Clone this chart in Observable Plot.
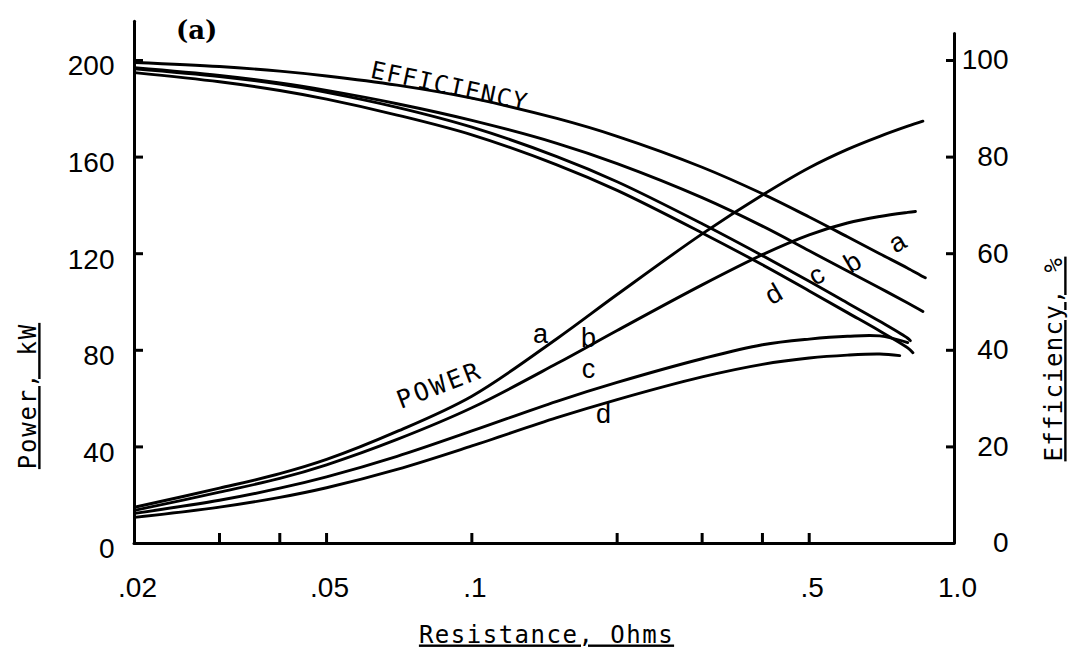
<!DOCTYPE html>
<html><head><meta charset="utf-8">
<script src="https://cdn.jsdelivr.net/npm/d3@7"></script>
<script src="https://cdn.jsdelivr.net/npm/@observablehq/plot@0.6"></script>
<style>
html,body{margin:0;padding:0;background:#fff;}
#chart{width:1075px;height:663px;}
</style></head><body><div id="chart"></div>
<script>
// Resistance grid (ohms) shared by the curves
const ohms = [0.02, 0.03, 0.04, 0.05, 0.07, 0.1, 0.15, 0.2, 0.3, 0.4, 0.5, 0.6, 0.7];

// Power, kW (curves a-d)
const powerA_R = [...ohms, 0.8, 0.86];
const powerA   = [15.0, 22.9, 28.9, 34.8, 46.4, 61.0, 84.8, 103.1, 128.2, 144.3, 155.6, 163.2, 168.6, 172.8, 174.9];
const powerB_R = [...ohms, 0.8, 0.83];
const powerB   = [13.75, 21.25, 26.95, 32.6, 43.1, 56.2, 74.5, 88.2, 107.1, 119.6, 127.8, 132.7, 135.4, 137.1, 137.5];
const powerC_R = [...ohms, 0.8];
const powerC   = [12.5, 17.9, 22.9, 27.6, 36.1, 46.6, 58.9, 66.7, 76.5, 82.3, 84.65, 85.8, 85.95, 83.2];
const powerD_R = [...ohms, 0.77];
const powerD   = [10.8, 15.05, 19.1, 23.1, 30.7, 40.4, 52.1, 59.6, 69.0, 74.2, 76.8, 78.0, 78.45, 77.8];

// Efficiency, % (curves a-d)
const effA_R = [...ohms, 0.8, 0.87];
const effA   = [99.6, 98.75, 97.8, 96.8, 94.9, 92.2, 88.0, 84.3, 77.9, 72.4, 67.6, 63.5, 60.0, 57.0, 55.0];
const effB_R = [...ohms, 0.8, 0.86];
const effB   = [98.5, 96.9, 95.35, 93.8, 91.05, 87.6, 82.85, 78.65, 71.6, 65.7, 60.6, 56.4, 52.9, 49.8, 48.05];
const effC_R = [...ohms, 0.8, 0.81];
const effC   = [98.3, 96.7, 95.1, 93.4, 90.3, 86.2, 80.1, 74.9, 66.2, 59.6, 54.3, 49.8, 46.0, 42.5, 42.0];
const effD_R = [...ohms, 0.8, 0.82];
const effD   = [97.5, 95.6, 93.8, 92.0, 88.7, 84.6, 78.4, 73.1, 64.3, 57.7, 52.3, 47.8, 44.0, 40.5, 39.5];

// Axes / ticks
const xTickMarks   = [0.03, 0.04, 0.05, 0.1, 0.2, 0.3, 0.4, 0.5];
const xLabelValues = [0.02, 0.05, 0.1, 0.5, 1.0];
const xTickLabels  = [".02", ".05", ".1", ".5", "1.0"];
const powerTicks   = [0, 40, 80, 120, 160, 200];
const effTicks     = [0, 20, 40, 60, 80, 100];
const powerAxisTop = 216;   // kW, top of left axis line
const effAxisTop   = 105.5; // %, top of right axis line

// Text annotations
const curveIds = ["a", "b", "c", "d"];
const powerLabelR = [0.1388, 0.1745, 0.1745, 0.1874];
const powerLabelP = [86.5, 84.9, 72.0, 53.4];
const effLabelR = [0.762, 0.615, 0.518, 0.422];
const effLabelE = [62.3, 58.2, 55.5, 51.6];
const titles = {x: "Resistance, Ohms", yLeft: "Power, kW", yRight: "Efficiency, %", panel: "(a)"};

// build tables
const powerSeries = [[powerA_R, powerA], [powerB_R, powerB], [powerC_R, powerC], [powerD_R, powerD]];
const effSeries = [[effA_R, effA], [effB_R, effB], [effC_R, effC], [effD_R, effD]];
const powerRows = powerSeries.flatMap(([rs, vs], k) => rs.map((r, i) => ({id: curveIds[k], r, v: vs[i]})));
const effRows = effSeries.flatMap(([rs, vs], k) => rs.map((r, i) => ({id: curveIds[k], r, v: vs[i]})));
const powerLabels = curveIds.map((t, i) => ({t, r: powerLabelR[i], v: powerLabelP[i]}));
const effLabels = curveIds.map((t, i) => ({t, r: effLabelR[i], v: effLabelE[i]}));
const xLabelMap = new Map(xLabelValues.map((v, i) => [v, xTickLabels[i]]));

const mono = "DejaVu Sans Mono";
const sans = "Liberation Sans";

const chart = Plot.plot({
  width: 1075, height: 663,
  marginLeft: 134, marginRight: 121, marginTop: 60, marginBottom: 120,
  x: {type: "log", domain: [0.02, 1.0], label: null},
  y: {domain: [0, 200], label: null},
  style: {fontFamily: sans, fontSize: "28px", color: "#000", background: "#fff", overflow: "visible"},
  marks: [
    // axis lines
    Plot.ruleX([0.02], {y1: 0, y2: powerAxisTop, strokeWidth: 3, strokeLinecap: "round"}),
    Plot.ruleX([1.0], {y1: 0, y2: effAxisTop * 2, strokeWidth: 3, strokeLinecap: "round"}),
    Plot.ruleY([0], {x1: 0.02, x2: 1.0, strokeWidth: 3, strokeLinecap: "round"}),
    // inward tick marks
    Plot.axisX({ticks: xTickMarks, tickSize: -10, strokeWidth: 3, tickFormat: () => "", label: null}),
    Plot.axisY({anchor: "left", ticks: powerTicks.slice(1), tickSize: -9, strokeWidth: 3, tickFormat: () => "", label: null}),
    Plot.axisY({anchor: "right", ticks: effTicks.slice(1).map(d => d * 2), tickSize: -9, strokeWidth: 3, tickFormat: () => "", label: null}),
    // tick labels
    Plot.axisX({ticks: xLabelValues, tickSize: 0, tickPadding: 34, dx: 3, tickFormat: d => xLabelMap.get(d), fontSize: 28, label: null}),
    Plot.axisY({anchor: "left", ticks: powerTicks, tickSize: 0, tickPadding: 20, dy: 6, fontSize: 28, label: null}),
    Plot.axisY({anchor: "right", ticks: effTicks.map(d => d * 2), tickSize: 0, tickPadding: 54, textAnchor: "end", tickFormat: d => String(d / 2), fontSize: 28, label: null}),
    // curves
    Plot.line(effRows, {x: "r", y: d => d.v * 2, z: "id", curve: "catmull-rom", stroke: "#000", strokeWidth: 2.9}),
    Plot.line(powerRows, {x: "r", y: "v", z: "id", curve: "catmull-rom", stroke: "#000", strokeWidth: 2.9}),
    // curve labels
    Plot.text(powerLabels, {x: "r", y: "v", text: "t", fontSize: 27, fontFamily: sans}),
    Plot.text(effLabels, {x: "r", y: d => d.v * 2, text: "t", fontSize: 27, fontFamily: sans, rotate: -30}),
    Plot.text(["EFFICIENCY"], {x: () => 0.0899, y: () => 189.2, text: d => d, rotate: 12, fontSize: 24, fontFamily: mono}),
    Plot.text(["POWER"], {x: () => 0.0857, y: () => 65.4, text: d => d, rotate: -21, fontSize: 25, fontFamily: mono}),
    Plot.text([titles.panel], {x: () => 0.0269, y: () => 212.4, text: d => d, fontSize: 26, fontWeight: "bold", fontFamily: "DejaVu Serif"}),
    // axis titles
    Plot.text([titles.x], {frameAnchor: "bottom", text: d => d, textAnchor: "middle", dx: 2, dy: 99, fontSize: 24, fontFamily: mono}),
    Plot.text([titles.yLeft], {frameAnchor: "left", text: d => d, textAnchor: "middle", rotate: -90, dx: -106, dy: 94, fontSize: 24, fontFamily: mono}),
    Plot.text([titles.yRight], {frameAnchor: "right", text: d => d, textAnchor: "middle", rotate: -90, dx: 100, dy: 57, fontSize: 24, fontFamily: mono})
  ]
});

const underlined = [titles.x, titles.yLeft, titles.yRight];
const spaced = {"EFFICIENCY": "1.6px", "POWER": "2.8px", [titles.x]: "1.5px", [titles.yLeft]: "1.8px", [titles.yRight]: "1.3px"};
d3.select(chart).selectAll("text").each(function() {
  const t = this.textContent;
  if (underlined.includes(t)) {
    this.style.textDecoration = "underline";
    this.style.textDecorationThickness = "2px";
  }
  if (spaced[t]) this.style.letterSpacing = spaced[t];
});
document.getElementById("chart").appendChild(chart);
</script></body></html>
